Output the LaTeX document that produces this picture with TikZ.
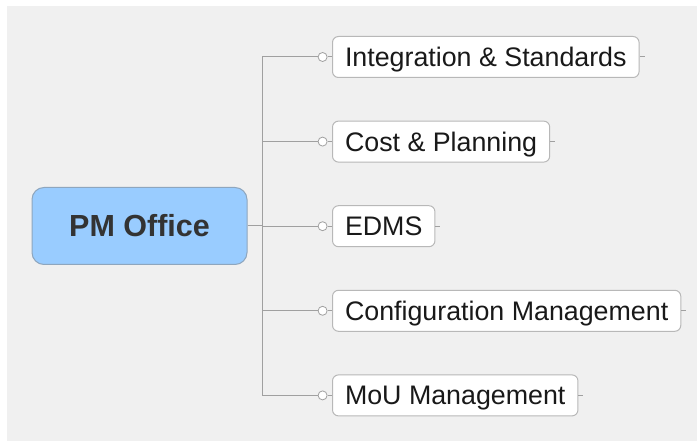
\documentclass[tikz,border=0pt]{standalone}
\usepackage{fontspec}
\setsansfont{Liberation Sans}
\usepackage{xcolor}
\definecolor{mapbg}{HTML}{F0F0F0}
\definecolor{rootblue}{HTML}{99CCFF}
\definecolor{rootedge}{HTML}{8EA6BE}
\definecolor{linkgray}{HTML}{A0A0A0}
\definecolor{leafedge}{HTML}{B8B8B8}
\definecolor{inkgray}{HTML}{333333}
\usepackage{tikz}
\usetikzlibrary{positioning}

\begin{document}
\begin{tikzpicture}[
  x=1pt, y=-1pt,
  rootbox/.style={draw=rootedge, fill=rootblue, rounded corners=12pt, line width=1pt, minimum width=215pt, minimum height=77pt, text=inkgray, font=\sffamily\bfseries\fontsize{30.5}{34}\selectfont},
  leaf/.style={draw=leafedge, fill=white, rounded corners=6pt, line width=1pt, minimum height=41pt, inner xsep=12.5pt, inner ysep=0pt, text height=19pt, text depth=0pt, text=black!90, font=\sffamily\fontsize{26.8}{30}\selectfont},
  dot/.style={circle, draw=linkgray, fill=white, line width=0.8pt, inner sep=0pt, minimum size=9pt},
  link/.style={draw=linkgray, line width=1pt},
]
  \useasboundingbox (0,0) rectangle (697,441);
  \fill[mapbg] (7,6) rectangle (697,441);

  % Central topic
  \node[rootbox] (pm) at (139.5,226) {PM Office};
  \coordinate (hub) at (262,226);

  % Subtopics
  \node[leaf, anchor=west] (int) at (332,57) {Integration \& Standards};
  \node[leaf, below=42.6pt of int.south west, anchor=north west] (cost) {Cost \& Planning};
  \node[leaf, below=42.6pt of cost.south west, anchor=north west] (edms) {EDMS};
  \node[leaf, below=42.6pt of edms.south west, anchor=north west] (conf) {Configuration Management};
  \node[leaf, below=42.6pt of conf.south west, anchor=north west] (mou) {MoU Management};

  % Branches
  \draw[link] (pm) -- (hub);
  \foreach \n in {int,cost,edms,conf,mou} {
    \node[dot, left=4.5pt of \n] (\n-dot) {};
    \coordinate[right=5pt of \n] (\n-tail);
    \draw[link] (hub) |- (\n-dot);
    \draw[link] (\n-dot) -- (\n);
    \draw[link] (\n) -- (\n-tail);
  }
\end{tikzpicture}
\end{document}
